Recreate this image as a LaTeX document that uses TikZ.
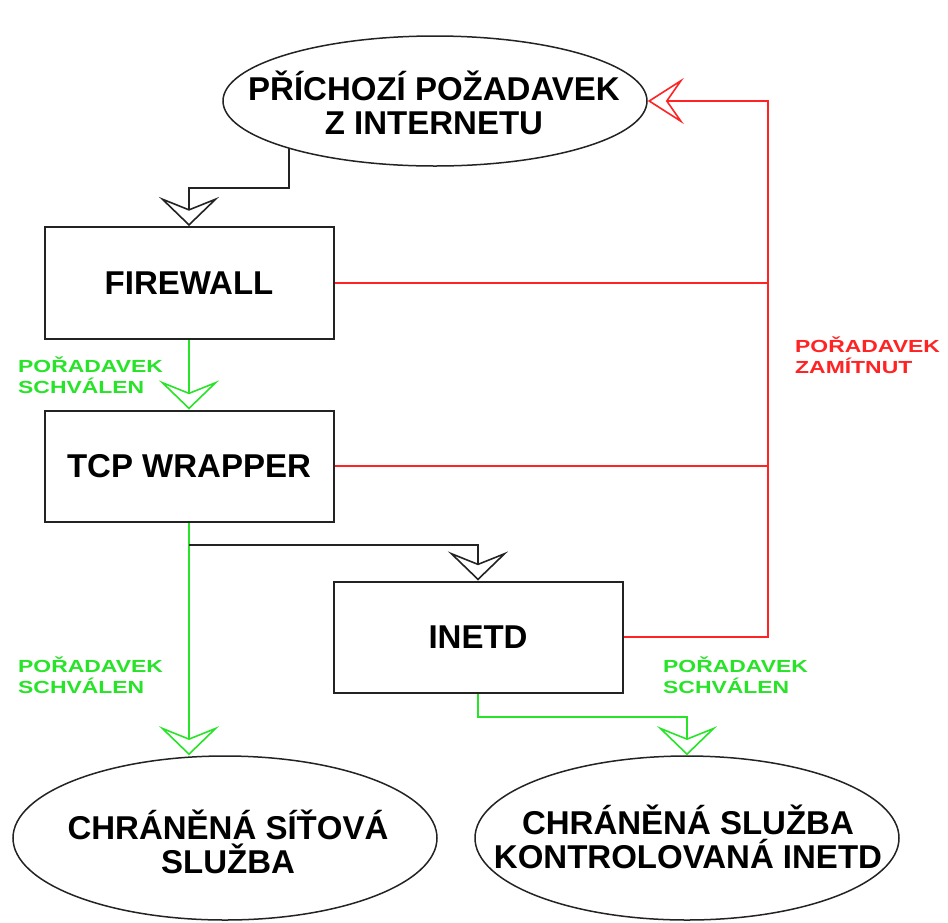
\documentclass[tikz,border=0pt]{standalone}
\usepackage{fontspec}
\setmainfont{Liberation Sans}
\newfontfamily\lblfont{Liberation Sans}[FakeStretch=1.31]
\usetikzlibrary{shapes.geometric,arrows.meta,calc}
\pgfdeclarelayer{bg}
\pgfsetlayers{bg,main}

\definecolor{okgreen}{RGB}{40,228,40}
\definecolor{denyred}{RGB}{255,35,35}
\definecolor{ink}{RGB}{35,35,35}

\tikzset{
  bigtext/.style={font=\fontsize{33}{34}\selectfont\bfseries, align=center},
  box/.style={draw=ink, line width=2pt, fill=white, inner sep=0pt,
    minimum width=289pt, minimum height=111pt, bigtext},
  oval/.style={ellipse, draw=ink, line width=1.5pt, fill=white, inner sep=0pt,
    minimum width=424pt},
  ovaltext/.style={inner sep=0pt, bigtext},
  lbl/.style={inner sep=0pt, align=left, anchor=base west,
    font=\lblfont\fontsize{17.5}{21}\selectfont\bfseries},
  tipbig/.style={-{Stealth[open, length=29pt, width=60pt, inset=12pt, line width=1.6pt]}},
  tipred/.style={-{Stealth[open, length=36pt, width=46pt, inset=16pt, line width=1.6pt]}},
  blackflow/.style={draw=ink, line width=2pt, tipbig},
  passflow/.style={draw=okgreen, line width=2pt, tipbig},
  denyflow/.style={draw=denyred, line width=2pt},
}

\begin{document}
\begin{tikzpicture}[x=1pt, y=-1pt]
  \begin{pgfonlayer}{bg}
    \fill[white] (0,0) rectangle (948,922);
  \end{pgfonlayer}
  \useasboundingbox (0,0) rectangle (948,922);

  % nodes
  \node[oval, minimum height=130pt] (top) at (435,101) {};
  \node[ovaltext] (toptext) at (434,103) {PŘÍCHOZÍ POŽADAVEK\\Z INTERNETU};
  \node[box, minimum height=112pt] (fw) at (189,283) {FIREWALL};
  \node[box] (tcp) at (189,466) {TCP WRAPPER};
  \node[box] (inetd) at (478,637) {INETD};
  \node[oval, minimum height=164pt] (svc) at (225,838) {};
  \node[ovaltext] (svctext) at (228,842) {CHRÁNĚNÁ SÍŤOVÁ\\SLUŽBA};
  \node[oval, minimum height=164pt] (isvc) at (687,838) {};
  \node[ovaltext] (isvctext) at (688,837) {CHRÁNĚNÁ SLUŽBA\\KONTROLOVANÁ INETD};

  % helper points for the bends
  \coordinate (topout) at (289,188);
  \coordinate (rx) at (768,100);

  \begin{pgfonlayer}{bg}
    % request enters the firewall
    \draw[blackflow] (topout |- top.center) -- (topout) -| (fw.north);
    % accepted paths
    \draw[passflow] (fw.south) -- (tcp.north);
    \draw[passflow] (tcp.south) -- (tcp.south |- svc.north);
    \draw[blackflow] ($(tcp.south)+(0,22)$) -| (inetd.north);
    \draw[passflow] (inetd.south) -- ++(0,23) -| (isvc.north);
    % rejected paths back to the origin
    \draw[denyflow] (fw.east) -- (fw.east -| rx);
    \draw[denyflow] (tcp.east) -- (tcp.east -| rx);
    \draw[denyflow, tipred] (inetd.east) -| (rx |- top.east) -- (top.east);
  \end{pgfonlayer}

  % labels
  \node[lbl, text=okgreen] (ok1) at (18,393) {POŘADAVEK\\SCHVÁLEN};
  \node[lbl, text=okgreen] (ok2) at (18,693) {POŘADAVEK\\SCHVÁLEN};
  \node[lbl, text=okgreen] (ok3) at (663,693) {POŘADAVEK\\SCHVÁLEN};
  \node[lbl, text=denyred] (deny) at (795,373) {POŘADAVEK\\ZAMÍTNUT};
\end{tikzpicture}
\end{document}
